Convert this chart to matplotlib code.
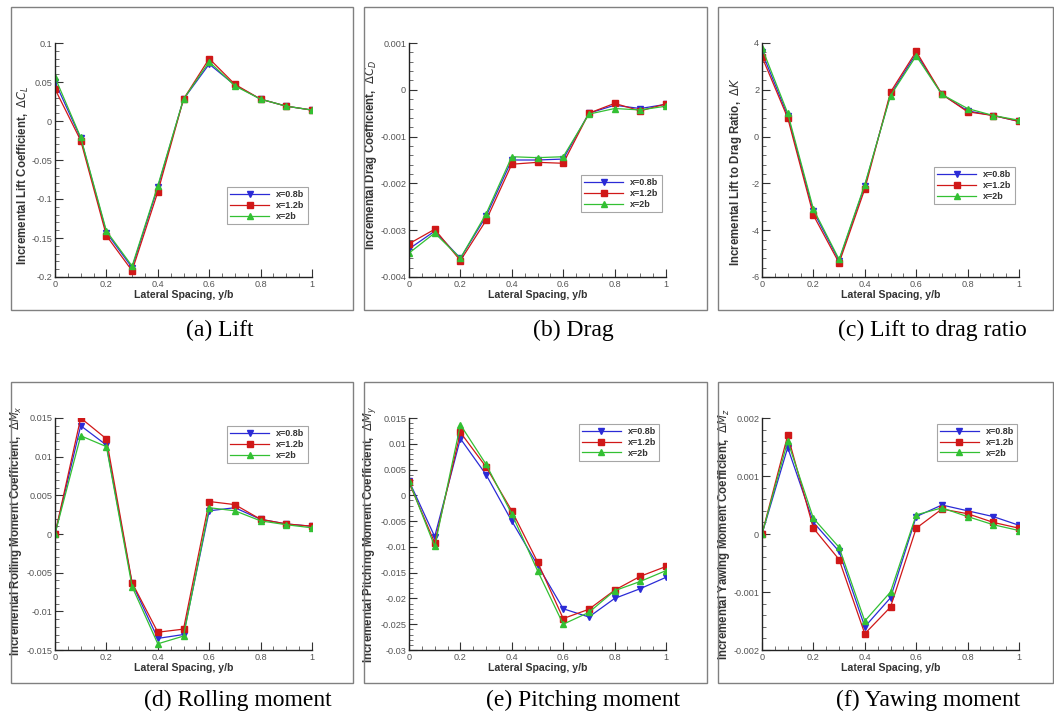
import matplotlib
matplotlib.use("Agg")
import matplotlib.pyplot as plt
from matplotlib.patches import Rectangle
from matplotlib.ticker import AutoMinorLocator, FuncFormatter, MultipleLocator

plt.rcParams['font.family'] = ['Liberation Sans', 'DejaVu Sans']
plt.rcParams['mathtext.fontset'] = 'dejavusans'

# ---------------- data ----------------
y_b = [0.0, 0.1, 0.2, 0.3, 0.4, 0.5, 0.6, 0.7, 0.8, 0.9, 1.0]
series_labels = ["x=0.8b", "x=1.2b", "x=2b"]

lift_08 = [0.050, -0.022, -0.143, -0.188, -0.085, 0.028, 0.073, 0.046, 0.028, 0.019, 0.014]
lift_12 = [0.041, -0.025, -0.147, -0.192, -0.091, 0.028, 0.080, 0.047, 0.028, 0.019, 0.014]
lift_20 = [0.056, -0.021, -0.141, -0.186, -0.083, 0.028, 0.076, 0.045, 0.028, 0.019, 0.014]

drag_08 = [-0.00340, -0.00302, -0.00360, -0.00270, -0.00150, -0.00150, -0.00148, -0.00050, -0.00033, -0.00040, -0.00031]
drag_12 = [-0.00329, -0.00298, -0.00365, -0.00279, -0.00159, -0.00155, -0.00157, -0.00050, -0.00029, -0.00045, -0.00030]
drag_20 = [-0.00349, -0.00306, -0.00360, -0.00265, -0.00143, -0.00145, -0.00143, -0.00052, -0.00040, -0.00043, -0.00035]

ld_08 = [3.60, 0.90, -3.20, -5.30, -2.10, 1.80, 3.55, 1.80, 1.10, 0.90, 0.65]
ld_12 = [3.41, 0.80, -3.36, -5.40, -2.24, 1.90, 3.64, 1.81, 1.06, 0.90, 0.65]
ld_20 = [3.79, 1.00, -3.10, -5.25, -2.05, 1.75, 3.45, 1.80, 1.20, 0.90, 0.70]

roll_08 = [0.0, 0.0140, 0.0115, -0.0064, -0.0135, -0.0130, 0.0030, 0.0034, 0.0019, 0.0013, 0.0010]
roll_12 = [0.0, 0.0150, 0.0123, -0.0063, -0.0127, -0.0123, 0.0042, 0.0038, 0.0019, 0.0013, 0.0010]
roll_20 = [0.0, 0.0127, 0.0113, -0.0068, -0.0142, -0.0132, 0.0034, 0.0030, 0.0017, 0.0012, 0.0008]

pitch_08 = [0.0028, -0.0080, 0.0110, 0.0040, -0.0050, -0.0135, -0.0220, -0.0236, -0.0200, -0.0181, -0.0159]
pitch_12 = [0.0025, -0.0092, 0.0122, 0.0055, -0.0030, -0.0129, -0.0239, -0.0221, -0.0184, -0.0157, -0.0138]
pitch_20 = [0.0028, -0.0099, 0.0137, 0.0060, -0.0036, -0.0146, -0.0250, -0.0227, -0.0185, -0.0167, -0.0146]

yaw_08 = [0.0, 0.00149, 0.00020, -0.00030, -0.00160, -0.00110, 0.00030, 0.00050, 0.00040, 0.00030, 0.00015]
yaw_12 = [0.0, 0.00170, 0.00010, -0.00044, -0.00172, -0.00126, 0.00010, 0.00043, 0.00035, 0.00020, 0.00010]
yaw_20 = [0.0, 0.00160, 0.00027, -0.00023, -0.00150, -0.00100, 0.00033, 0.00045, 0.00030, 0.00016, 0.00006]

captions = ["(a) Lift", "(b) Drag", "(c) Lift to drag ratio",
            "(d) Rolling moment", "(e) Pitching moment", "(f) Yawing moment"]
ylabels = [r"Incremental Lift Coefficient,  $\Delta C_L$",
           r"Incremental Drag Coefficient,  $\Delta C_D$",
           r"Incremental Lift to Drag Ratio,  $\Delta K$",
           r"Incremental Rolling Moment Coefficient,  $\Delta M_x$",
           r"Incremental Pitching Moment Coefficient,  $\Delta M_y$",
           r"Incremental Yawing Moment Coefficient,  $\Delta M_z$"]
xlabel = "Lateral Spacing, y/b"

panels = [
    (lift_08, lift_12, lift_20, (-0.2, 0.1), 0.05),
    (drag_08, drag_12, drag_20, (-0.004, 0.001), 0.001),
    (ld_08, ld_12, ld_20, (-6, 4), 2),
    (roll_08, roll_12, roll_20, (-0.015, 0.015), 0.005),
    (pitch_08, pitch_12, pitch_20, (-0.03, 0.015), 0.005),
    (yaw_08, yaw_12, yaw_20, (-0.002, 0.002), 0.001),
]

# ---------------- layout (pixels) ----------------
W, H = 1054, 713
fig = plt.figure(figsize=(W / 100, H / 100), dpi=100)
fig.patch.set_facecolor('white')

col_box = [(11, 353), (364, 707), (718, 1053)]
row_box = [(7, 310), (382, 683)]
col_ax = [(55, 312), (409, 666), (762, 1019)]
row_ax = [(43, 277), (418, 650)]
cap_x = [220, 573, 932, 238, 583, 928]
cap_y = [330, 330, 330, 700, 700, 700]
leg_anchor = [(0.67, 0.385), (0.67, 0.435), (0.67, 0.47),
              (0.67, 0.965), (0.66, 0.975), (0.68, 0.975)]
ylab_xpx = [26, 374, 739, 19, 373, 727]
ylab_ypx = [175, 155, 172, 531, 534, 534]

colors = ['#2b2bd6', '#d01818', '#33c033']
markers = ['v', 's', '^']


def tick_fmt(v, pos):
    if abs(v) < 1e-12:
        return '0'
    return '%g' % round(v, 6)


fmt = FuncFormatter(tick_fmt)

for i, (s08, s12, s20, ylim, ystep) in enumerate(panels):
    r, c = divmod(i, 3)
    bx0, bx1 = col_box[c]
    by0, by1 = row_box[r]
    fig.patches.append(Rectangle((bx0 / W, 1 - by1 / H), (bx1 - bx0) / W, (by1 - by0) / H,
                                 transform=fig.transFigure, fill=False,
                                 edgecolor='#808080', linewidth=1.0))
    ax0, ax1 = col_ax[c]
    ay0, ay1 = row_ax[r]
    ax = fig.add_axes([ax0 / W, 1 - ay1 / H, (ax1 - ax0) / W, (ay1 - ay0) / H])
    for k, s in enumerate([s08, s12, s20]):
        ax.plot(y_b, s, color=colors[k], marker=markers[k], markersize=5,
                linewidth=0.9, label=series_labels[k])
    ax.set_xlim(0, 1)
    ax.set_ylim(*ylim)
    ax.spines['top'].set_visible(False)
    ax.spines['right'].set_visible(False)
    for sp in ('left', 'bottom'):
        ax.spines[sp].set_color('#222222')
        ax.spines[sp].set_linewidth(1.0)
    ax.xaxis.set_major_locator(MultipleLocator(0.2))
    ax.xaxis.set_minor_locator(AutoMinorLocator(4))
    ax.yaxis.set_major_locator(MultipleLocator(ystep))
    ax.yaxis.set_minor_locator(AutoMinorLocator(5))
    ax.xaxis.set_major_formatter(fmt)
    ax.yaxis.set_major_formatter(fmt)
    ax.tick_params(which='major', direction='in', length=6, width=0.8,
                   labelsize=6.6, labelcolor='#555555', color='#333333', pad=2)
    ax.tick_params(which='minor', direction='in', length=3, width=0.6, color='#555555')
    ax.set_xlabel(xlabel, fontsize=7.6, fontweight='bold', color='#333333', labelpad=1)
    ax.set_ylabel(ylabels[i], fontsize=8.3, fontweight='bold', color='#333333')
    # label anchor = right edge of rotated text
    lx = (ylab_xpx[i] + 5 - ax0) / (ax1 - ax0)
    ly = (ay1 - ylab_ypx[i]) / (ay1 - ay0)
    ax.yaxis.set_label_coords(lx, ly)
    ax.set_facecolor('none')
    leg = ax.legend(loc='upper left', bbox_to_anchor=leg_anchor[i],
                    fontsize=6.5, handlelength=4.3, frameon=True, fancybox=False,
                    edgecolor='#909090', borderpad=0.35, labelspacing=0.2,
                    handletextpad=0.8, borderaxespad=0.0)
    leg.get_frame().set_linewidth(0.8)
    for t in leg.get_texts():
        t.set_fontweight('bold')
        t.set_color('#333333')
    fig.text(cap_x[i] / W, 1 - cap_y[i] / H, captions[i], ha='center', va='center',
             fontsize=17, family=['Liberation Serif', 'DejaVu Serif'])

fig.savefig('out.png', dpi=100)
